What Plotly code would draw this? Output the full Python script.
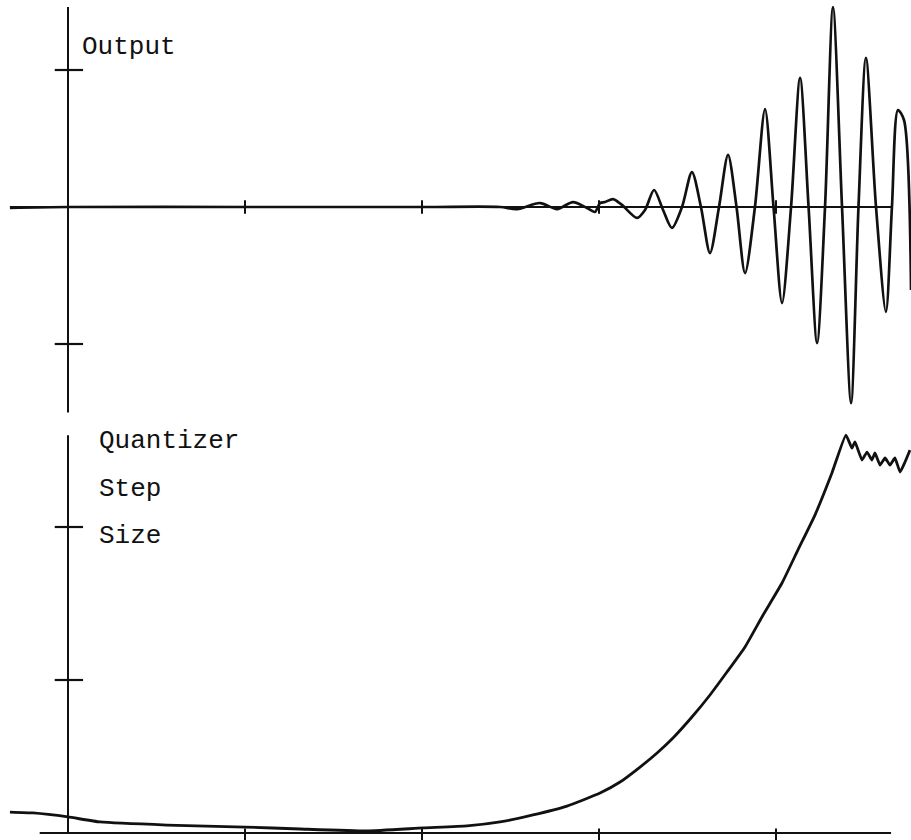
import plotly.graph_objects as go

# ---- data ----
out_x = [-0.328, 0.0, 1.0, 2.017, 2.441, 2.537, 2.667, 2.763, 2.853, 2.932, 2.977, 3.006,
         3.034, 3.079, 3.130, 3.215, 3.260, 3.311, 3.362, 3.412, 3.469, 3.525, 3.576, 3.627,
         3.678, 3.729, 3.777, 3.825, 3.881, 3.938, 3.986, 4.034, 4.085, 4.136, 4.184, 4.232,
         4.277, 4.322, 4.373, 4.424, 4.466, 4.508, 4.565, 4.621, 4.655, 4.689, 4.723, 4.763]
out_y = [-0.007, 0.0, 0.0, 0.0, 0.0, -0.015, 0.029, -0.015, 0.036, -0.007, -0.036, 0.029,
         0.036, 0.058, 0.015, -0.080, -0.022, 0.124, -0.022, -0.153, 0.0, 0.255, 0.0, -0.336,
         0.0, 0.380, 0.0, -0.482, 0.0, 0.715, 0.0, -0.701, 0.0, 0.942, 0.0, -0.993,
         0.0, 1.460, 0.0, -1.431, 0.0, 1.088, 0.0, -0.766, 0.0, 0.708, 0.635, -0.606]

step_x = [-0.328, -0.198, 0.0, 0.181, 0.559, 1.0, 1.311, 1.689, 2.006, 2.254, 2.441, 2.627,
          2.819, 3.006, 3.119, 3.232, 3.328, 3.418, 3.525, 3.627, 3.723, 3.825, 3.927, 4.034,
          4.124, 4.220, 4.316, 4.395, 4.429, 4.446, 4.486, 4.514, 4.542, 4.559, 4.588, 4.616,
          4.644, 4.672, 4.701, 4.729, 4.757]
step_y = [0.137, 0.131, 0.105, 0.072, 0.052, 0.039, 0.026, 0.013, 0.033, 0.046, 0.072, 0.118,
          0.176, 0.261, 0.333, 0.431, 0.523, 0.621, 0.758, 0.902, 1.052, 1.216, 1.425, 1.634,
          1.850, 2.078, 2.353, 2.601, 2.516, 2.556, 2.438, 2.490, 2.438, 2.484, 2.405, 2.451,
          2.405, 2.451, 2.359, 2.425, 2.503]

x_ticks = [1, 2, 3, 4]
out_ticks = [-1, 1]
step_ticks = [1, 2]
top_label = "Output"
bottom_labels = ["Quantizer", "Step", "Size"]

INK = "#111111"
FONT = "Liberation Mono, Courier New, monospace"

fig = go.Figure()
fig.add_trace(go.Scatter(x=out_x, y=out_y, mode="lines", xaxis="x", yaxis="y",
                         line=dict(color=INK, width=2.7, shape="spline", smoothing=0.8),
                         showlegend=False, hoverinfo="skip"))
fig.add_trace(go.Scatter(x=step_x, y=step_y, mode="lines", xaxis="x2", yaxis="y2",
                         line=dict(color=INK, width=2.8, shape="spline", smoothing=0.4),
                         showlegend=False, hoverinfo="skip"))

shapes = []
# top panel axes
shapes.append(dict(type="line", xref="x", yref="y", x0=-0.328, x1=4.65, y0=0, y1=0,
                   line=dict(color=INK, width=1.8)))
shapes.append(dict(type="line", xref="x", yref="y", x0=0, x1=0, y0=-1.50, y1=1.46,
                   line=dict(color=INK, width=2)))
for t in x_ticks:
    shapes.append(dict(type="line", xref="x", yref="y", x0=t, x1=t, y0=-0.05, y1=0.05,
                       line=dict(color=INK, width=2)))
for t in out_ticks:
    shapes.append(dict(type="line", xref="x", yref="y", x0=-0.075, x1=0.085, y0=t, y1=t,
                       line=dict(color=INK, width=2.2)))
# bottom panel axes
shapes.append(dict(type="line", xref="x2", yref="y2", x0=-0.16, x1=4.65, y0=0, y1=0,
                   line=dict(color=INK, width=2.2)))
shapes.append(dict(type="line", xref="x2", yref="y2", x0=0, x1=0, y0=0, y1=2.60,
                   line=dict(color=INK, width=2)))
for t in x_ticks:
    shapes.append(dict(type="line", xref="x2", yref="y2", x0=t, x1=t, y0=-0.05, y1=0.03,
                       line=dict(color=INK, width=2)))
for t in step_ticks:
    shapes.append(dict(type="line", xref="x2", yref="y2", x0=-0.075, x1=0.085, y0=t, y1=t,
                       line=dict(color=INK, width=2.2)))

annotations = [dict(xref="x", yref="y", x=0.065, y=1.17, text=top_label, showarrow=False,
                    xanchor="left", yanchor="middle", font=dict(family=FONT, size=26, color=INK))]
for i, lab in enumerate(bottom_labels):
    annotations.append(dict(xref="x2", yref="y2", x=0.165, y=2.56 - i * 0.31, text=lab,
                            showarrow=False, xanchor="left", yanchor="middle",
                            font=dict(family=FONT, size=26, color=INK)))

xr = [-68 / 177, (911 - 68) / 177]
ax_common = dict(visible=False, showgrid=False, zeroline=False, fixedrange=True)
fig.update_layout(
    width=911, height=840, margin=dict(l=0, r=0, t=0, b=0),
    paper_bgcolor="white", plot_bgcolor="white",
    xaxis=dict(domain=[0, 1], range=xr, anchor="y", **ax_common),
    yaxis=dict(domain=[0.5, 1], range=[(207 - 420) / 137, 207 / 137], anchor="x", **ax_common),
    xaxis2=dict(domain=[0, 1], range=xr, anchor="y2", **ax_common),
    yaxis2=dict(domain=[0, 0.5], range=[(833 - 840) / 153, (833 - 420) / 153], anchor="x2", **ax_common),
    shapes=shapes, annotations=annotations,
)
fig.write_html("out.html")
